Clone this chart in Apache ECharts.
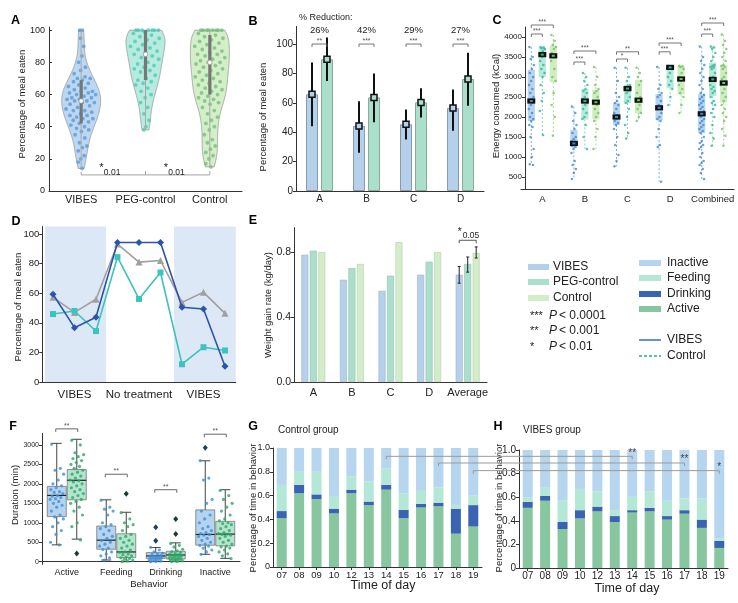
<!DOCTYPE html>
<html><head><meta charset="utf-8">
<script src="https://cdn.jsdelivr.net/npm/echarts@6/dist/echarts.min.js"></script>
<style>html,body{margin:0;padding:0;background:#fff}#c{width:738px;height:603px}</style>
</head><body><div id="c"></div>
<script>
const FONT = '"Liberation Sans", Arial, sans-serif';
const TXT = '#222';

// ---------- Panel A data (violins) ----------
const aGroups = ['VIBES', 'PEG-control', 'Control'];
const aVibes = [100,100,95,90,84,80,77,75,73,71,70,70,69,68,67,66,65,64,63,62,62,61,61,60,60,59,58,58,57,57,56,56,55,55,54,53,52,51,50,50,49,48,47,47,46,45,45,44,43,42,41,40,39,38,37,35,33,30,28,27,25,22,20,18,14];
const aPeg = [100,100,100,100,100,100,100,99,98,97,96,95,94,93,92,91,90,89,88,87,86,85,84,83,82,80,79,78,77,76,75,74,72,70,69,68,67,66,64,62,60,58,55,52,48,44,40,38];
const aControl = [100,100,100,100,100,100,100,100,98,97,96,95,94,93,92,91,90,89,88,87,86,85,85,84,83,82,81,80,80,79,78,77,76,75,74,73,72,71,70,69,68,67,66,65,64,63,62,61,60,59,58,57,56,55,54,52,50,48,46,44,42,40,38,35,32,30,28,26,24,22,20,17,15];
const aMedian = [56, 85, 80];
const aQ1 = [42, 69, 60];
const aQ3 = [69, 100, 97];
const aSigLevel = 10;
const aSigLabels = ['0.01', '0.01'];
const aTicks = [0, 20, 40, 60, 80, 100];

// ---------- Panel B data ----------
const bCats = ['A', 'B', 'C', 'D'];
const bVibes = [65.8, 44.2, 45.4, 56.5];
const bVibesLo = [44, 26, 35, 41];
const bVibesHi = [87.5, 61, 55.5, 69];
const bPeg = [89.6, 63.7, 60.3, 76.2];
const bPegLo = [74.8, 46.7, 50, 58];
const bPegHi = [104.5, 80, 70, 94];
const bReduction = ['26%', '42%', '29%', '27%'];
const bStars = ['**', '***', '***', '***'];
const bSigLevel = 100;
const bTicks = [0, 20, 40, 60, 80, 100];

// ---------- Panel C data ----------
const cCats = ['A', 'B', 'C', 'D', 'Combined'];
const cTicks = [500, 1000, 1500, 2000, 2500, 3000, 3500, 4000];
const cVibesMed = [2400, 1340, 2000, 2230, 2080];
const cVibesQ1 = [1900, 1240, 1800, 1920, 1600];
const cVibesQ3 = [3180, 1680, 2350, 2570, 2580];
const cVibesLo = [800, 450, 770, 380, 450];
const cVibesHi = [3750, 2260, 3230, 3250, 3760];
const cPegMed = [3560, 2400, 2710, 3240, 2940];
const cPegQ1 = [3000, 1940, 2350, 2720, 2520];
const cPegQ3 = [3730, 2700, 2800, 3280, 3360];
const cPegLo = [1550, 1200, 1460, 2300, 1280];
const cPegHi = [3750, 3100, 3230, 3280, 3760];
const cCtrlMed = [3530, 2370, 2420, 2950, 2850];
const cCtrlQ1 = [2870, 1940, 2090, 2560, 2360];
const cCtrlQ3 = [3780, 2680, 2930, 3280, 3300];
const cCtrlLo = [1530, 1200, 1900, 2100, 1280];
const cCtrlHi = [4050, 3250, 3230, 3280, 4060];
const cVibesPts = [
  [3750,3500,3450,3300,3200,3100,3000,2900,2800,2700,2600,2500,2450,2400,2350,2300,2200,2100,2000,1950,1900,1800,1750,1500,1200,1000,820,800],
  [2260,2100,1900,1800,1700,1600,1500,1450,1400,1380,1350,1330,1300,1280,1250,1200,1100,900,800,700,600,450],
  [3230,2900,2600,2500,2400,2350,2300,2200,2100,2050,2000,1980,1950,1900,1850,1800,1700,1500,1300,1050,900,770],
  [3250,2800,2700,2600,2550,2500,2400,2300,2250,2230,2200,2100,2000,1950,1900,1700,1500,1300,1250,380],
  [3760,3500,3400,3300,3200,3100,3000,2900,2800,2700,2600,2550,2500,2450,2400,2350,2300,2250,2200,2150,2100,2080,2050,2000,1950,1900,1850,1800,1750,1700,1650,1600,1500,1400,1350,1300,1250,1200,1100,1000,900,850,800,700,600,450]
];
const cPegPts = [
  [3750,3740,3720,3700,3650,3600,3560,3500,3400,3300,3200,3100,3000,2800,2600,2400,2150,1550],
  [3100,3000,2900,2800,2700,2650,2600,2500,2450,2400,2400,2350,2300,2200,2100,2000,1950,1800,1500,1200],
  [3230,3000,2900,2800,2780,2750,2720,2700,2680,2650,2600,2500,2400,2350,2200,2000,1800,1600,1460],
  [3280,3270,3260,3250,3240,3230,3200,3100,3000,2900,2800,2700,2500,2300],
  [3760,3740,3700,3600,3500,3400,3300,3280,3250,3240,3200,3100,3000,2950,2940,2900,2800,2750,2700,2650,2600,2500,2400,2350,2300,2200,2100,2000,1800,1600,1460,1280]
];
const cCtrlPts = [
  [4050,3900,3800,3750,3700,3600,3550,3500,3400,3200,3000,2900,2600,2300,2000,1530],
  [3250,3000,2800,2700,2650,2600,2500,2400,2370,2300,2200,2100,2000,1900,1700,1500,1200],
  [3230,3100,3000,2900,2800,2600,2500,2420,2400,2300,2200,2100,2000,1900],
  [3280,3270,3250,3200,3100,3000,2950,2900,2800,2700,2600,2500,2300,2100],
  [4060,3900,3800,3700,3600,3500,3400,3300,3280,3250,3200,3100,3000,2950,2900,2850,2800,2700,2600,2500,2400,2300,2200,2100,2000,1900,1700,1530,1280]
];
const cSigCat = [0, 0, 1, 1, 2, 2, 3, 3, 4, 4];
const cSigTo = [1, 2, 1, 2, 1, 2, 1, 2, 1, 2];
const cSigLevel = [4075, 4300, 3375, 3650, 3450, 3630, 3630, 3850, 4075, 4350];
const cSigStars = ['***', '***', '***', '***', '*', '**', '***', '***', '***', '***'];

// ---------- Panel D data ----------
const dSessions = [1, 2, 3, 4, 5, 6, 7, 8, 9];
const dBlue = [59.3, 36.7, 43.7, 94.3, 94.3, 94.3, 50.5, 49.3, 10.6];
const dGray = [57.2, 47, 55.9, 93.2, 81, 82.1, 53.8, 60.6, 46.4];
const dTeal = [45.9, 48, 34.4, 84.4, 56.1, 74, 12, 23.5, 21.3];
const dPhaseNames = ['VIBES', 'No treatment', 'VIBES'];
const dPhasePos = [2, 5, 8];
const dShadeFrom = [0.63, 6.63];
const dShadeTo = [3.47, 9.5];
const dTicks = [0, 20, 40, 60, 80, 100];

// ---------- Panel E data ----------
const eCats = ['A', 'B', 'C', 'D', 'Average'];
const eVibes = [0.783, 0.629, 0.561, 0.66, 0.66];
const ePeg = [0.808, 0.701, 0.654, 0.74, 0.726];
const eControl = [0.80, 0.726, 0.86, 0.80, 0.794];
const eErrLo = [0.608, 0.676, 0.763];
const eErrHi = [0.711, 0.769, 0.831];
const eSigLevel = 0.872;
const eTicks = [0, 0.4, 0.8];

// ---------- Panel F data ----------
const fCats = ['Active', 'Feeding', 'Drinking', 'Inactive'];
const fTicks = [0, 500, 1000, 1500, 2000, 2500, 3000];
const fVibesMed = [1703, 553, 147, 700];
const fVibesQ1 = [1158, 320, 86, 424];
const fVibesQ3 = [1936, 916, 233, 1331];
const fVibesLo = [432, 43, 0, 190];
const fVibesHi = [3042, 1590, 363, 2593];
const fCtrlMed = [2092, 250, 173, 709];
const fCtrlQ1 = [1590, 104, 69, 406];
const fCtrlQ3 = [2368, 717, 268, 1037];
const fCtrlLo = [579, 0, 0, 86];
const fCtrlHi = [3146, 1270, 484, 1850];
const fVibesOut = [[], [], [536, 882], [2930]];
const fCtrlOut = [[207], [1746], [709, 1098], []];
const fVibesPts = [
  [3020,2400,2350,2250,2100,2000,1950,1900,1850,1800,1780,1750,1700,1680,1650,1620,1600,1550,1500,1450,1400,1300,1200,1150,1100,1000,900,800,700,500,430],
  [1580,1400,1350,1300,1200,1000,950,900,850,800,700,650,600,550,500,450,400,350,310,250,200,150,100,40],
  [370,300,250,220,200,180,160,140,130,120,110,100,90,80,70,60,50,40,30,20,10,0],
  [2600,2150,2100,1600,1500,1300,1200,1100,1000,900,850,800,750,720,700,680,650,600,550,500,450,420,400,350,300,250,190]
];
const fCtrlPts = [
  [3120,3000,2800,2750,2700,2650,2600,2550,2500,2450,2400,2350,2300,2250,2200,2150,2100,2080,2050,2000,1950,1900,1850,1800,1750,1700,1650,1600,1550,1500,1400,1300,1200,1000,900,560],
  [1260,1100,1000,950,900,800,700,650,600,550,500,450,400,350,300,250,240,200,180,150,120,100,80,60,40,20,0],
  [470,420,380,320,280,260,240,220,200,180,170,160,150,140,130,120,100,90,80,70,60,50,40,30,20,10,0],
  [1830,1700,1600,1500,1400,1300,1200,1100,1050,1000,980,950,900,850,800,750,720,710,700,680,650,600,550,500,450,400,380,350,300,250,200,150,80]
];
const fSigLevel = [3414, 2247, 1850, 3276];

// ---------- Panels G / H data ----------
const hours = ['07', '08', '09', '10', '12', '13', '14', '15', '16', '17', '18', '19'];
const gActive = [0.41, 0.62, 0.57, 0.45, 0.62, 0.52, 0.65, 0.41, 0.50, 0.51, 0.28, 0.34];
const gDrinking = [0.06, 0.07, 0.04, 0.04, 0.03, 0.03, 0.04, 0.07, 0.03, 0.03, 0.21, 0.18];
const gFeeding = [0.22, 0.11, 0.19, 0.10, 0.11, 0.17, 0.14, 0.14, 0.11, 0.13, 0.03, 0.08];
const gInactive = [0.31, 0.20, 0.20, 0.41, 0.24, 0.28, 0.17, 0.38, 0.36, 0.33, 0.48, 0.40];
const hActive = [0.51, 0.57, 0.33, 0.42, 0.48, 0.39, 0.47, 0.48, 0.41, 0.46, 0.34, 0.17];
const hDrinking = [0.05, 0.04, 0.06, 0.07, 0.04, 0.05, 0.02, 0.03, 0.03, 0.03, 0.07, 0.06];
const hFeeding = [0.04, 0.07, 0.18, 0.18, 0.13, 0.05, 0.12, 0.14, 0.13, 0.10, 0.18, 0.02];
const hInactive = [0.40, 0.32, 0.43, 0.33, 0.35, 0.51, 0.39, 0.35, 0.43, 0.41, 0.41, 0.75];
const ghSigHour = ['14', '17', '19'];
const ghSigLevel = [0.93, 0.874, 0.81];
const ghSigStars = ['**', '**', '*'];
const ghTicks = [0, 0.2, 0.4, 0.6, 0.8, 1.0];

// ---------- colours ----------
const COL = {
  vibes: '#b5d0ea', peg: '#a9dfcb', control: '#d3edcb',
  inactive: '#b6d5ee', feeding: '#b4e7d5', drinking: '#3a63b1', active: '#88c6a0'
};
const jit = j => ((j * 0.6180339887 + 0.137) % 1) * 2 - 1;

// ---------- helpers ----------
function valAxis(g, min, max, ticks, o) {
  o = o || {};
  const ax = {
    type: 'value', gridIndex: g, min: min, max: max,
    axisLine: { show: true, lineStyle: { color: '#333', width: 1 } },
    axisTick: { show: true, inside: !!o.inside, length: 3, customValues: ticks, lineStyle: { color: '#333' } },
    axisLabel: { customValues: ticks, fontSize: o.fs || 9, color: TXT, fontFamily: FONT, margin: o.margin || 4, formatter: o.fmt || (v => String(v)) },
    splitLine: { show: false }
  };
  if (o.offset) ax.offset = o.offset;
  return ax;
}
function catAxis(g, data, o) {
  o = o || {};
  return {
    type: 'category', gridIndex: g, data: data, boundaryGap: true,
    axisLine: { show: true, lineStyle: { color: '#333', width: 1 } },
    axisTick: { show: !!o.ticks, length: 3, alignWithLabel: true, lineStyle: { color: '#333' } },
    axisLabel: { fontSize: o.fs || 10, color: TXT, fontFamily: FONT, margin: o.margin || 4, interval: 0 },
    splitLine: { show: false }
  };
}

function violinSeries(gi, vals, med, q1, q3, fill, pt) {
  return {
    type: 'custom', xAxisIndex: 0, yAxisIndex: 0, data: [[gi, med]], clip: false, silent: true, z: 3,
    renderItem: function (params, api) {
      const lo = Math.min.apply(null, vals), hi = Math.max.apply(null, vals);
      const bw = 7.5;
      const dens = v => vals.reduce((s, x) => s + Math.exp(-0.5 * Math.pow((v - x) / bw, 2)), 0);
      const samples = []; let mx = 0;
      for (let v = lo; v <= hi + 1e-6; v += 0.5) { const d = dens(v); samples.push([v, d]); if (d > mx) mx = d; }
      const HW = 19.5;
      const cx = api.coord([gi, med])[0];
      const left = [], right = [];
      samples.forEach(s => { const y = api.coord([gi, s[0]])[1]; const w = s[1] / mx * HW; left.push([cx - w, y]); right.push([cx + w, y]); });
      const poly = left.concat(right.reverse());
      const ch = [{ type: 'polygon', shape: { points: poly }, style: { fill: fill, stroke: '#999', lineWidth: 0.8 } }];
      vals.forEach((v, j) => {
        const y = api.coord([gi, v])[1];
        const w = dens(v) / mx * HW * 0.82;
        ch.push({ type: 'circle', shape: { cx: cx + w * jit(j), cy: y, r: 1.9 }, style: { fill: pt, opacity: 0.7 } });
      });
      ch.push({ type: 'line', shape: { x1: cx, y1: api.coord([gi, hi])[1], x2: cx, y2: api.coord([gi, lo])[1] }, style: { stroke: '#aaa', lineWidth: 1 } });
      ch.push({ type: 'line', shape: { x1: cx, y1: api.coord([gi, q3])[1], x2: cx, y2: api.coord([gi, q1])[1] }, style: { stroke: '#777', lineWidth: 3.2 } });
      ch.push({ type: 'circle', shape: { cx: cx, cy: api.coord([gi, med])[1], r: 2.3 }, style: { fill: '#fff', stroke: '#999', lineWidth: 0.8 } });
      return { type: 'group', children: ch };
    }
  };
}

function errSeries(g, cats, vals, lo, hi, off, opt) {
  return {
    type: 'custom', xAxisIndex: g, yAxisIndex: g, clip: false, silent: true, z: 5,
    data: cats.map((c, i) => [i, vals[i], lo[i], hi[i]]),
    renderItem: function (params, api) {
      const i = params.dataIndex;
      const p = api.coord([i, vals[i]]);
      const x = p[0] + off;
      const y1 = api.coord([i, hi[i]])[1], y2 = api.coord([i, lo[i]])[1];
      const ch = [{ type: 'line', shape: { x1: x, y1: y1, x2: x, y2: y2 }, style: { stroke: '#111', lineWidth: opt.w } }];
      if (opt.square) {
        ch.push({ type: 'rect', shape: { x: x - 3, y: p[1] - 3, width: 6, height: 6 }, style: { fill: opt.square, stroke: '#111', lineWidth: 1.5 } });
      }
      return { type: 'group', children: ch };
    }
  };
}

function cBoxSeries(off, med, q1, q3, lo, hi, pts, boxFill, ptCol, whCol) {
  return {
    type: 'custom', xAxisIndex: 2, yAxisIndex: 2, clip: false, silent: true, z: 4,
    data: cCats.map((c, i) => [i, med[i]]),
    renderItem: function (params, api) {
      const i = params.dataIndex;
      const Y = v => api.coord([i, v])[1];
      const cx = api.coord([i, med[i]])[0] + off;
      const hw = 3.6;
      const ch = [];
      ch.push({ type: 'line', shape: { x1: cx, y1: Y(hi[i]), x2: cx, y2: Y(q3[i]) }, style: { stroke: whCol, lineWidth: 1, lineDash: [2, 2] } });
      ch.push({ type: 'line', shape: { x1: cx, y1: Y(q1[i]), x2: cx, y2: Y(lo[i]) }, style: { stroke: whCol, lineWidth: 1, lineDash: [2, 2] } });
      ch.push({ type: 'rect', shape: { x: cx - hw, y: Y(q3[i]), width: hw * 2, height: Y(q1[i]) - Y(q3[i]) }, style: { fill: boxFill } });
      pts[i].forEach((v, j) => {
        ch.push({ type: 'circle', shape: { cx: cx + 2.6 * jit(j), cy: Y(v), r: 1.3 }, style: { fill: ptCol, opacity: 0.75 } });
      });
      const ym = Y(med[i]);
      ch.push({ type: 'rect', shape: { x: cx - 4, y: ym - 2.6, width: 8, height: 5.2 }, style: { fill: '#111' } });
      ch.push({ type: 'rect', shape: { x: cx - 1.5, y: ym - 1, width: 3, height: 2 }, style: { fill: ptCol } });
      return { type: 'group', children: ch };
    }
  };
}

function fBoxSeries(off, med, q1, q3, lo, hi, pts, outs, boxFill, ptCol, outCol) {
  return {
    type: 'custom', xAxisIndex: 5, yAxisIndex: 5, clip: false, silent: true, z: 4,
    data: fCats.map((c, i) => [i, med[i]]),
    renderItem: function (params, api) {
      const i = params.dataIndex;
      const Y = v => api.coord([i, v])[1];
      const cx = api.coord([i, med[i]])[0] + off;
      const hw = 9.5, cap = 5;
      const ch = [];
      ch.push({ type: 'line', shape: { x1: cx, y1: Y(hi[i]), x2: cx, y2: Y(q3[i]) }, style: { stroke: '#444', lineWidth: 1 } });
      ch.push({ type: 'line', shape: { x1: cx, y1: Y(q1[i]), x2: cx, y2: Y(lo[i]) }, style: { stroke: '#444', lineWidth: 1 } });
      ch.push({ type: 'line', shape: { x1: cx - cap, y1: Y(hi[i]), x2: cx + cap, y2: Y(hi[i]) }, style: { stroke: '#444', lineWidth: 1 } });
      ch.push({ type: 'line', shape: { x1: cx - cap, y1: Y(lo[i]), x2: cx + cap, y2: Y(lo[i]) }, style: { stroke: '#444', lineWidth: 1 } });
      ch.push({ type: 'rect', shape: { x: cx - hw, y: Y(q3[i]), width: hw * 2, height: Y(q1[i]) - Y(q3[i]) }, style: { fill: boxFill, stroke: '#777', lineWidth: 0.8 } });
      ch.push({ type: 'line', shape: { x1: cx - hw, y1: Y(med[i]), x2: cx + hw, y2: Y(med[i]) }, style: { stroke: '#222', lineWidth: 1.2 } });
      pts[i].forEach((v, j) => {
        ch.push({ type: 'circle', shape: { cx: cx + 7 * jit(j), cy: Y(v), r: 1.6 }, style: { fill: ptCol, opacity: 0.8 } });
      });
      outs[i].forEach(v => {
        const y = Y(v);
        ch.push({ type: 'polygon', shape: { points: [[cx, y - 3], [cx + 2.5, y], [cx, y + 3], [cx - 2.5, y]] }, style: { fill: outCol } });
      });
      return { type: 'group', children: ch };
    }
  };
}

function stackBar(g, data, color, stack) {
  return { type: 'bar', xAxisIndex: g, yAxisIndex: g, stack: stack, data: data, barWidth: 10, itemStyle: { color: color }, silent: true };
}

// ---------- option ----------
const chart = echarts.init(document.getElementById('c'), null, { renderer: 'canvas', width: 738, height: 603 });

const grids = [
  { left: 49, top: 27, width: 193, height: 164 },        // A
  { left: 296, top: 26.4, width: 188, height: 164.6 },   // B
  { left: 521, top: 27, width: 213, height: 162 },       // C
  { left: 42.25, top: 226.6, width: 193.5, height: 155.4 }, // D
  { left: 294, top: 227.6, width: 193, height: 154.4 },  // E
  { left: 42, top: 433.3, width: 198, height: 131.1 },   // F
  { left: 273, top: 448, width: 209, height: 119 },      // G
  { left: 519, top: 450, width: 209, height: 118 }       // H
];

const ghFmt = v => v === 0 ? '0' : v.toFixed(1);

const option = {
  animation: false,
  backgroundColor: '#fff',
  textStyle: { fontFamily: FONT },
  grid: grids.map(g => Object.assign({ containLabel: false }, g)),
  xAxis: [
    catAxis(0, aGroups, { fs: 11, margin: 3 }),
    catAxis(1, bCats, { fs: 10, margin: 3 }),
    catAxis(2, cCats, { fs: 9.5, margin: 5 }),
    {
      type: 'value', gridIndex: 3, min: 0.5, max: 9.5,
      axisLine: { show: true, lineStyle: { color: '#333' } }, axisTick: { show: false }, splitLine: { show: false },
      axisLabel: { customValues: dPhasePos, fontSize: 11.5, color: TXT, fontFamily: FONT, margin: 7, formatter: v => dPhaseNames[dPhasePos.indexOf(v)] }
    },
    catAxis(4, eCats, { fs: 11, margin: 5 }),
    catAxis(5, fCats, { fs: 9, margin: 4 }),
    catAxis(6, hours, { fs: 9.5, margin: 3, ticks: true }),
    catAxis(7, hours, { fs: 10, margin: 3, ticks: true })
  ],
  yAxis: [
    valAxis(0, 0, 102, aTicks, { fs: 9, inside: true, margin: 4 }),
    valAxis(1, 0, 112, bTicks, { fs: 10, margin: 3 }),
    valAxis(2, 200, 4250, cTicks, { fs: 8, margin: 3, offset: -4 }),
    valAxis(3, 0, 105, dTicks, { fs: 9.5, margin: 3 }),
    valAxis(4, 0, 0.95, eTicks, { fs: 10.5, margin: 3, fmt: v => v.toFixed(1) }),
    valAxis(5, -70, 3300, fTicks, { fs: 7, margin: 3 }),
    valAxis(6, 0, 1, ghTicks, { fs: 9, margin: 3, fmt: ghFmt }),
    valAxis(7, 0, 1, ghTicks, { fs: 10, margin: 3, fmt: ghFmt })
  ],
  series: [
    // A
    violinSeries(0, aVibes, aMedian[0], aQ1[0], aQ3[0], 'rgba(125,175,228,0.5)', '#4b93d6'),
    violinSeries(1, aPeg, aMedian[1], aQ1[1], aQ3[1], 'rgba(110,215,190,0.5)', '#45c3b0'),
    violinSeries(2, aControl, aMedian[2], aQ1[2], aQ3[2], 'rgba(175,224,155,0.55)', '#66bb70'),
    // B
    { type: 'bar', xAxisIndex: 1, yAxisIndex: 1, data: bVibes, barWidth: 12, barGap: '25%', itemStyle: { color: COL.vibes, borderColor: '#8c9aa8', borderWidth: 1 }, silent: true },
    { type: 'bar', xAxisIndex: 1, yAxisIndex: 1, data: bPeg, barWidth: 12, barGap: '25%', itemStyle: { color: COL.peg, borderColor: '#8ca89e', borderWidth: 1 }, silent: true },
    errSeries(1, bCats, bVibes, bVibesLo, bVibesHi, -7.5, { w: 2, square: COL.vibes }),
    errSeries(1, bCats, bPeg, bPegLo, bPegHi, 7.5, { w: 2, square: COL.peg }),
    // C
    cBoxSeries(-11, cVibesMed, cVibesQ1, cVibesQ3, cVibesLo, cVibesHi, cVibesPts, 'rgba(100,160,220,0.45)', '#3a86cf', '#7fb0e0'),
    cBoxSeries(0, cPegMed, cPegQ1, cPegQ3, cPegLo, cPegHi, cPegPts, 'rgba(80,205,170,0.42)', '#27b393', '#80d6bf'),
    cBoxSeries(11, cCtrlMed, cCtrlQ1, cCtrlQ3, cCtrlLo, cCtrlHi, cCtrlPts, 'rgba(150,215,120,0.45)', '#6cbf5c', '#a6d98e'),
    // D
    {
      type: 'line', xAxisIndex: 3, yAxisIndex: 3, data: [], silent: true,
      markArea: { silent: true, itemStyle: { color: '#dce8f5' }, data: dShadeFrom.map((f, i) => [{ xAxis: f }, { xAxis: dShadeTo[i] }]) }
    },
    { type: 'line', xAxisIndex: 3, yAxisIndex: 3, data: dSessions.map((s, i) => [s, dGray[i]]), symbol: 'triangle', symbolSize: 7, lineStyle: { color: '#a0a0a0', width: 1.6 }, itemStyle: { color: '#a0a0a0' }, silent: true, z: 3 },
    { type: 'line', xAxisIndex: 3, yAxisIndex: 3, data: dSessions.map((s, i) => [s, dTeal[i]]), symbol: 'rect', symbolSize: 6, lineStyle: { color: '#3cc3bd', width: 1.6 }, itemStyle: { color: '#3cc3bd' }, silent: true, z: 4 },
    { type: 'line', xAxisIndex: 3, yAxisIndex: 3, data: dSessions.map((s, i) => [s, dBlue[i]]), symbol: 'diamond', symbolSize: 7, lineStyle: { color: '#2c54a8', width: 1.6 }, itemStyle: { color: '#2c54a8' }, silent: true, z: 5 },
    // E
    { type: 'bar', xAxisIndex: 4, yAxisIndex: 4, data: eVibes, barWidth: 7, barGap: '21%', itemStyle: { color: COL.vibes, borderColor: '#9fb4c8', borderWidth: 0.6 }, silent: true },
    { type: 'bar', xAxisIndex: 4, yAxisIndex: 4, data: ePeg, barWidth: 7, barGap: '21%', itemStyle: { color: COL.peg, borderColor: '#98bfb1', borderWidth: 0.6 }, silent: true },
    { type: 'bar', xAxisIndex: 4, yAxisIndex: 4, data: eControl, barWidth: 7, barGap: '21%', itemStyle: { color: COL.control, borderColor: '#b5cfad', borderWidth: 0.6 }, silent: true },
    // F
    fBoxSeries(-10, fVibesMed, fVibesQ1, fVibesQ3, fVibesLo, fVibesHi, fVibesPts, fVibesOut, 'rgba(120,175,225,0.55)', '#3d8fd6', '#1f3f66'),
    fBoxSeries(10, fCtrlMed, fCtrlQ1, fCtrlQ3, fCtrlLo, fCtrlHi, fCtrlPts, fCtrlOut, 'rgba(120,205,165,0.55)', '#2aa866', '#173f26'),
    // G
    stackBar(6, gActive, COL.active, 'g'),
    stackBar(6, gDrinking, COL.drinking, 'g'),
    stackBar(6, gFeeding, COL.feeding, 'g'),
    stackBar(6, gInactive, COL.inactive, 'g'),
    // H
    stackBar(7, hActive, COL.active, 'h'),
    stackBar(7, hDrinking, COL.drinking, 'h'),
    stackBar(7, hFeeding, COL.feeding, 'h'),
    stackBar(7, hInactive, COL.inactive, 'h')
  ]
};
// E error bars for the Average group (category index 4)
[[eVibes, 0, -8.5], [ePeg, 1, 0], [eControl, 2, 8.5]].forEach(function (d) {
  const vals = d[0], k = d[1], off = d[2];
  option.series.push({
    type: 'custom', xAxisIndex: 4, yAxisIndex: 4, clip: false, silent: true, z: 6,
    data: [[4, vals[4]]],
    renderItem: function (params, api) {
      const x = api.coord([4, vals[4]])[0] + off;
      const y1 = api.coord([4, eErrHi[k]])[1], y2 = api.coord([4, eErrLo[k]])[1];
      return {
        type: 'group', children: [
          { type: 'line', shape: { x1: x, y1: y1, x2: x, y2: y2 }, style: { stroke: '#222', lineWidth: 1 } },
          { type: 'line', shape: { x1: x - 1.5, y1: y1, x2: x + 1.5, y2: y1 }, style: { stroke: '#222', lineWidth: 1 } },
          { type: 'line', shape: { x1: x - 1.5, y1: y2, x2: x + 1.5, y2: y2 }, style: { stroke: '#222', lineWidth: 1 } }
        ]
      };
    }
  });
});

chart.setOption(option);

// ---------- annotations ----------
const P = (g, x, y) => chart.convertToPixel({ gridIndex: g }, [x, y]);
const G = [];
function T(text, x, y, o) {
  o = o || {};
  const st = {
    text: text, x: 0, y: 0, fill: o.color || TXT,
    font: (o.italic ? 'italic ' : 'normal ') + (o.bold ? 'bold ' : 'normal ') + (o.size || 10) + 'px ' + FONT,
    align: o.align || 'center', verticalAlign: o.va || 'middle',
    textAlign: o.align || 'center', textVerticalAlign: o.va || 'middle'
  };
  G.push({ type: 'text', x: x, y: y, rotation: o.rot || 0, silent: true, z: 100, style: st });
}
function PL(pts, o) {
  o = o || {};
  G.push({ type: 'polyline', silent: true, z: 100, shape: { points: pts }, style: { stroke: o.color || '#444', lineWidth: o.w || 1, fill: null, lineDash: o.dash || null } });
}
function R(x, y, w, h, fill) {
  G.push({ type: 'rect', silent: true, z: 100, shape: { x: x, y: y, width: w, height: h }, style: { fill: fill } });
}
function bracket(x1, x2, y, t, color) {
  PL([[x1, y + t], [x1, y], [x2, y], [x2, y + t]], { color: color || '#555', w: 0.9 });
}

// panel letters
[['A', 15.5, 21], ['B', 253, 22], ['C', 497, 21], ['D', 16, 222], ['E', 253, 221], ['F', 13, 427], ['G', 253, 427], ['H', 498, 427]]
  .forEach(l => T(l[0], l[1], l[2], { bold: true, size: 12.5, color: '#000' }));

// axis titles
T('Percentage of meal eaten', 22, 104, { rot: Math.PI / 2, size: 9.5 });
T('Percentage of meal eaten', 263, 117, { rot: Math.PI / 2, size: 9.5 });
T('Energy consumed (kCal)', 496, 106, { rot: Math.PI / 2, size: 9.5 });
T('Percentage of meal eaten', 18, 307, { rot: Math.PI / 2, size: 9.5 });
T('Weight gain rate (kg/day)', 268, 305, { rot: Math.PI / 2, size: 9.5 });
T('Duration (min)', 15, 495, { rot: Math.PI / 2, size: 9.5 });
T('Percentage of time in behavior', 253, 508, { rot: Math.PI / 2, size: 9.5 });
T('Percentage of time in behavior', 499, 508, { rot: Math.PI / 2, size: 9.5 });
T('Behavior', 149, 584, { size: 9.5 });
T('Time of day', 383, 586, { size: 12.5 });
T('Time of day', 627, 589, { size: 12.5 });
T('Control group', 278, 430, { size: 10, align: 'left' });
T('VIBES group', 523, 430, { size: 10, align: 'left' });

// A significance
(function () {
  const p0 = P(0, 0, aSigLevel), p1 = P(0, 1, aSigLevel), p2 = P(0, 2, aSigLevel);
  PL([[p0[0], p0[1] - 3], [p0[0], p0[1]], [p2[0], p2[1]], [p2[0], p2[1] - 4]], { color: '#999', w: 0.9 });
  PL([[p1[0], p1[1]], [p1[0], p1[1] - 4]], { color: '#999', w: 0.9 });
  [[p0, p1], [p1, p2]].forEach((pp, k) => {
    const mx = (pp[0][0] + pp[1][0]) / 2;
    T('*', mx - 14, pp[0][1] - 7, { size: 11, align: 'left' });
    T(aSigLabels[k], mx - 9.5, pp[0][1] - 2.5, { size: 8.5, align: 'left' });
  });
})();

// B annotations
T('% Reduction:', 299, 18, { size: 9, align: 'left' });
bCats.forEach((c, i) => {
  const p = P(1, i, bSigLevel);
  bracket(p[0] - 7.5, p[0] + 7.5, p[1], 3, '#666');
  T(bStars[i], p[0], p[1] - 3, { size: 7, color: '#555' });
  T(bReduction[i], p[0], 30, { size: 9.5 });
});

// C brackets
cSigCat.forEach((c, k) => {
  const p = P(2, c, cSigLevel[k]);
  const x1 = p[0] - 11, x2 = p[0] - 11 + 11 * cSigTo[k];
  bracket(x1, x2, p[1], 3, '#666');
  T(cSigStars[k], (x1 + x2) / 2, p[1] - 3, { size: 6.5, color: '#555' });
});

// E bracket
(function () {
  const p = P(4, 4, eSigLevel);
  bracket(p[0] - 8.5, p[0] + 8.5, p[1], 3, '#444');
  T('*', p[0] - 10, p[1] - 8, { size: 10, align: 'left' });
  T('0.05', p[0] - 5, p[1] - 4.5, { size: 8.5, align: 'left' });
})();

// F brackets
fCats.forEach((c, i) => {
  const p = P(5, i, fSigLevel[i]);
  bracket(p[0] - 11, p[0] + 11, p[1], 3, '#555');
  T('**', p[0], p[1] - 3, { size: 7, color: '#555' });
});

// G -> H comparison lines
ghSigHour.forEach((h, k) => {
  const idx = hours.indexOf(h);
  const a = P(6, idx, ghSigLevel[k]);
  const b = P(7, idx, 0.5);
  PL([[a[0], a[1] + 3], [a[0], a[1]], [b[0], a[1]], [b[0], a[1] + 3]], { color: '#9a9a9a', w: 1 });
  T(ghSigStars[k], b[0], a[1] - 3.5, { size: 10, color: '#444' });
});

// Legend block
const lg1 = [['VIBES', COL.vibes, 267], ['PEG-control', COL.peg, 282], ['Control', COL.control, 298]];
lg1.forEach(r => { R(528, r[2] - 3, 21, 6, r[1]); T(r[0], 553, r[2], { size: 12, align: 'left' }); });
[['***', '< 0.0001', 316], ['**', '< 0.001', 331], ['*', '< 0.01', 347]].forEach(r => {
  T(r[0], 530, r[2], { size: 11, align: 'left' });
  T('P', 549, r[2], { size: 12, italic: true, align: 'left' });
  T(r[1], 559, r[2], { size: 12, align: 'left' });
});
const lg2 = [['Inactive', COL.inactive, 263], ['Feeding', COL.feeding, 278], ['Drinking', COL.drinking, 294], ['Active', COL.active, 309]];
lg2.forEach(r => { R(639, r[2] - 3, 22, 6, r[1]); T(r[0], 667, r[2], { size: 12, align: 'left' }); });
PL([[639, 340], [661, 340]], { color: '#2e72c6', w: 1.5 });
T('VIBES', 667, 340, { size: 12, align: 'left' });
PL([[639, 356], [661, 356]], { color: '#1fb07c', w: 1.5, dash: [3, 2] });
T('Control', 667, 356, { size: 12, align: 'left' });

chart.setOption({ graphic: { elements: G } });
</script></body></html>
